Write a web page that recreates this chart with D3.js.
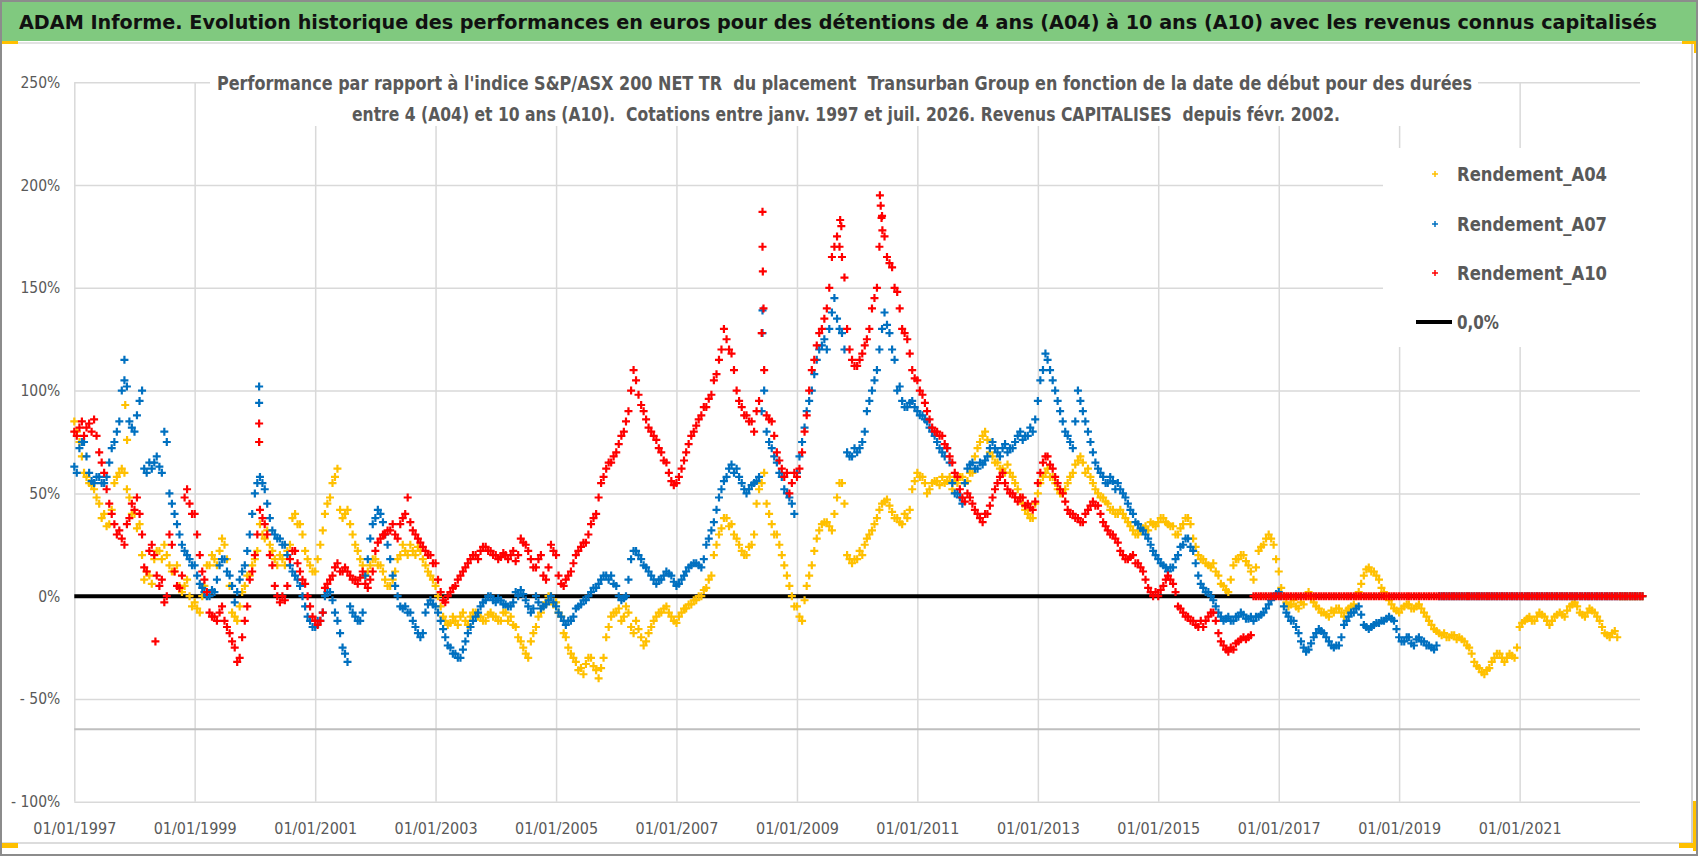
<!DOCTYPE html>
<html>
<head>
<meta charset="utf-8">
<script src="https://cdn.jsdelivr.net/npm/d3@7"></script>
<style>
  body { margin: 0; background: #fff; }
  svg { display: block; }
  text { font-family: "DejaVu Sans Condensed", "Liberation Sans Narrow", "Open Sans", sans-serif; white-space: pre; }
</style>
</head>
<body>
<svg id="chart" width="1698" height="856"></svg>
<script>
// monthly readings, first value = janv. 1997 (start of month)
const startDate = '1997-01-01'

const a04 = [
  85, 75, 60, 55, 52, 45, 40, 35, 55, 60, 60, 48,
  40, 35, 8, 10, 18, 22, 25, 15, 12, 5, 5, 0,
  -3, -8, 5, 15, 18, 22, 25, 5, -10, -5, 5, 10,
  18, 35, 28, 25, 18, 20, 15, 25, 40, 35, 22, 15,
  12, 25, 40, 48, 58, 42, 40, 35, 25, 18, 10, 15,
  18, 15, 8, 5, 12, 20, 22, 25, 20, 22, 15, 10,
  5, -5, -12, -13, -12, -10, -12, -10, -8, -10, -12, -8,
  -10, -12, -8, -10, -15, -22, -28, -22, -15, -8, -3, 0,
  -3, -10, -20, -28, -32, -35, -33, -30, -36, -35, -20, -10,
  -8, -12, -5, -15, -12, -20, -22, -15, -10, -8, -5, -10,
  -13, -8, -6, -4, -2, 0, 4, 10, 25, 33, 38, 35,
  28, 22, 20, 25, 45, 55, 45, 35, 30, 20, 10, 0,
  -5, -12, 5, 15, 28, 35, 36, 32, 48, 55, 20, 16,
  18, 20, 28, 32, 38, 45, 47, 41, 38, 35, 38, 52,
  60, 58, 50, 55, 56, 58, 56, 52, 55, 58, 56, 60,
  72, 78, 76, 68, 65, 62, 64, 58, 52, 45, 40, 38,
  50, 58, 62, 58, 52, 50, 55, 60, 66, 65, 62, 55,
  50, 48, 45, 42, 40, 40, 36, 32, 30, 33, 32, 35,
  36, 38, 35, 34, 30, 35, 38, 28, 20, 18, 15, 16,
  10, 5, 2, 15, 18, 20, 15, 8, 22, 25, 30, 25,
  12, 0, -5, -2, -6, -4, 2, -3, -6, -8, -10, -8,
  -6, -10, -6, -4, 2, 10, 14, 12, 8, 2, -2, -6,
  -8, -5, -4, -6, -4, -8, -12, -16, -18, -18, -20, -19,
  -20, -22, -25, -32, -35, -38, -35, -30, -28, -32, -28, -30,
  -15, -12, -10, -12, -8, -10, -14, -10, -8, -10, -5, -3,
  -8, -10, -6, -8, -12, -18, -20, -17,
  0, 0, 0, 0, 0
]

// second reading of each month (mid-month), other edge of the cloud
const a04Mid = [
  80, 68, 58, 54, 48, 38, 34, 42, 58, 62, 52, 40,
  33, 20, 12, 6, 22, 18, 20, 12, 15, 2, 8, -5,
  -6, 0, 15, 20, 15, 28, 18, -8, -12, 2, 10, 15,
  22, 30, 32, 22, 15, 18, 22, 38, 35, 30, 18, 12,
  18, 32, 45, 55, 62, 38, 42, 30, 22, 15, 12, 18,
  15, 12, 5, 8, 18, 25, 20, 22, 24, 18, 12, 8,
  0, -10, -14, -10, -14, -8, -14, -8, -10, -12, -9, -10,
  -12, -8, -12, -14, -20, -25, -30, -18, -10, -5, 0, -4,
  -8, -18, -25, -30, -36, -38, -30, -34, -40, -30, -15, -8,
  -6, -10, -8, -18, -16, -24, -18, -12, -8, -6, -8, -12,
  -10, -6, -4, -2, 0, 3, 8, 20, 30, 38, 34, 30,
  25, 20, 24, 30, 52, 60, 40, 30, 25, 15, 5, -5,
  -10, -2, 10, 22, 32, 36, 34, 40, 55, 45, 18, 18,
  22, 25, 30, 35, 42, 46, 44, 38, 36, 40, 42, 56,
  58, 55, 52, 56, 54, 55, 58, 56, 58, 55, 60, 68,
  75, 80, 70, 65, 62, 60, 60, 55, 48, 42, 38, 45,
  55, 60, 58, 55, 50, 52, 58, 64, 68, 60, 58, 52,
  48, 46, 42, 40, 42, 38, 34, 30, 32, 34, 36, 34,
  38, 36, 34, 30, 33, 38, 35, 24, 18, 16, 14, 12,
  6, 3, 8, 18, 20, 17, 12, 14, 24, 28, 28, 18,
  4, -3, -4, -5, -3, 0, -1, -5, -8, -9, -7, -6,
  -8, -7, -5, 0, 6, 13, 12, 10, 4, 0, -4, -7,
  -6, -4, -6, -5, -6, -10, -14, -17, -19, -20, -19, -21,
  -21, -24, -28, -34, -37, -36, -32, -28, -30, -30, -29, -25,
  -13, -11, -12, -10, -9, -12, -12, -9, -9, -7, -4, -5,
  -9, -8, -7, -10, -15, -19, -18, -20,
  0, 0, 0, 0, 0
]

const a07 = [
  63, 72, 75, 60, 55, 58, 55, 65, 75, 85, 105, 85,
  80, 95, 62, 65, 65, 63, 80, 50, 40, 30, 22, 18,
  15, 6, 2, 0, 2, 15, 18, 10, -3, 8, 15, 30,
  50, 58, 52, 38, 30, 28, 25, 15, 10, 5, -5, -12,
  -15, -12, 0, 2, -8, -18, -28, -5, -10, -12, 10, 28,
  38, 40, 30, 18, 5, -5, -5, -8, -15, -20, -8, -2,
  -5, -12, -20, -25, -28, -30, -22, -15, -10, -5, -2, 0,
  -3, -2, -4, -5, 2, 3, -2, -8, 0, -6, -4, 0,
  -5, -10, -14, -12, -6, -4, -2, 2, 4, 8, 10, 10,
  5, -2, 0, 18, 22, 18, 14, 10, 6, 8, 12, 10,
  5, 8, 12, 15, 16, 14, 25, 32, 42, 52, 58, 64,
  62, 55, 50, 54, 56, 90, 80, 72, 65, 58, 50, 45,
  60, 75, 90, 100, 115, 122, 120, 138, 135, 128, 70, 68,
  70, 75, 90, 100, 110, 130, 132, 120, 100, 95, 92, 95,
  90, 88, 85, 80, 75, 70, 72, 55, 50, 45, 62, 65,
  62, 64, 68, 75, 70, 72, 70, 72, 78, 76, 78, 80,
  95, 110, 115, 105, 95, 85, 78, 72, 100, 90, 80, 70,
  62, 58, 55, 56, 55, 50, 45, 40, 35, 32, 28, 22,
  18, 15, 12, 14, 20, 25, 28, 22, 10, 4, 2, -2,
  -8, -12, -10, -12, -10, -9, -11, -12, -10, -8, -4, 0,
  2, -5, -10, -12, -18, -25, -26, -20, -16, -18, -22, -25,
  -24, -14, -10, -8, -5, -14, -16, -14, -13, -12, -10, -12,
  -20, -22, -20, -24, -20, -22, -24, -26,
  0, 0, 0, 0, 0, 0, 0, 0, 0, 0, 0, 0, 0, 0, 0, 0, 0, 0, 0, 0,
  0, 0, 0, 0, 0, 0, 0, 0, 0, 0, 0, 0, 0, 0, 0, 0, 0, 0, 0, 0, 0
]

const a07Mid = [
  60, 75, 68, 56, 58, 55, 58, 72, 80, 100, 102, 82,
  88, 100, 60, 62, 68, 60, 75, 45, 35, 25, 20, 15,
  10, 4, 0, 3, 8, 18, 12, 5, 2, 12, 22, 40,
  55, 55, 45, 32, 28, 25, 20, 12, 8, 0, -10, -15,
  -12, -8, 2, -2, -12, -25, -32, -8, -12, -8, 18, 35,
  42, 36, 25, 10, 0, -6, -8, -12, -18, -18, -4, -4,
  -8, -16, -24, -28, -30, -26, -18, -12, -8, -3, 0, -2,
  -1, -4, -5, -3, 0, 1, -5, -6, -3, -5, -2, -3,
  -8, -12, -12, -10, -5, -2, 0, 4, 6, 10, 8, 6,
  0, -1, 8, 22, 20, 15, 12, 8, 8, 10, 11, 7,
  6, 10, 14, 16, 15, 18, 28, 36, 48, 56, 62, 60,
  58, 52, 52, 55, 58, 100, 75, 68, 60, 52, 48, 40,
  68, 82, 95, 108, 120, 125, 130, 145, 130, 120, 68, 72,
  72, 80, 95, 105, 120, 138, 128, 115, 102, 92, 94, 92,
  88, 86, 82, 78, 72, 68, 65, 50, 48, 55, 64, 62,
  65, 66, 72, 72, 68, 74, 72, 75, 80, 78, 82, 86,
  105, 118, 110, 100, 90, 80, 75, 85, 95, 85, 75, 65,
  60, 55, 58, 52, 52, 48, 42, 36, 33, 30, 25, 20,
  16, 14, 14, 18, 24, 28, 24, 16, 6, 2, 0, -5,
  -10, -11, -12, -10, -8, -11, -10, -10, -9, -6, -2, 1,
  0, -8, -12, -15, -22, -27, -23, -18, -17, -20, -24, -24,
  -20, -12, -8, -6, -9, -15, -15, -13, -12, -11, -11, -16,
  -22, -20, -23, -21, -22, -24, -25, -24,
  0, 0, 0, 0, 0, 0, 0, 0, 0, 0, 0, 0, 0, 0, 0, 0, 0, 0, 0, 0,
  0, 0, 0, 0, 0, 0, 0, 0, 0, 0, 0, 0, 0, 0, 0, 0, 0, 0, 0, 0, 0
]

const a10 = [
  80, 82, 78, 84, 86, 70, 60, 45, 35, 32, 25, 38,
  42, 40, 14, 22, 20, 5, -3, 30, 12, 4, 48, 45,
  40, 20, 8, -8, -10, -8, -12, -18, -25, -30, -12, 8,
  20, 42, 35, 20, 5, -3, -2, 18, 22, 12, 6, -5,
  -12, -12, 4, 8, 14, 12, 14, 10, 8, 9, 6, 8,
  22, 28, 30, 32, 30, 35, 40, 36, 30, 26, 22, 20,
  16, 2, -3, 2, 5, 10, 14, 18, 20, 22, 24, 22,
  20, 19, 20, 20, 17, 28, 25, 18, 14, 20, 8, 25,
  20, 6, 8, 12, 20, 24, 26, 35, 40, 55, 62, 65,
  70, 78, 85, 100, 105, 93, 86, 80, 76, 70, 65, 56,
  55, 62, 70, 78, 83, 88, 92, 98, 108, 120, 125, 118,
  100, 92, 88, 85, 90, 128, 88, 85, 70, 62, 60, 55,
  58, 70, 88, 110, 122, 130, 140, 165, 175, 165, 130, 115,
  112, 118, 125, 140, 150, 185, 165, 160, 148, 130, 125, 110,
  105, 98, 90, 82, 80, 78, 72, 65, 58, 48, 50, 45,
  40, 36, 40, 48, 55, 60, 52, 50, 46, 48, 45, 42,
  55, 65, 68, 62, 55, 50, 42, 40, 38, 36, 42, 46,
  44, 36, 32, 30, 26, 20, 18, 20, 16, 12, 4, 0,
  0, 5, 10, 6, -5, -8, -10, -12, -15, -15, -10, -8,
  -18, -24, -27, -26, -22, -20, -20,
  0, 0, 0, 0, 0, 0, 0, 0, 0, 0, 0, 0, 0, 0, 0, 0, 0, 0, 0, 0,
  0, 0, 0, 0, 0, 0, 0, 0, 0, 0, 0, 0, 0, 0, 0, 0, 0, 0, 0, 0,
  0, 0, 0, 0, 0, 0, 0, 0, 0, 0, 0, 0, 0, 0, 0, 0, 0, 0, 0, 0,
  0, 0, 0, 0, 0, 0, 0, 0, 0, 0, 0, 0, 0, 0, 0, 0, 0, 0
]

const a10Mid = [
  78, 85, 82, 80, 78, 65, 52, 40, 30, 28, 35, 45,
  48, 30, 12, 25, 10, 8, 0, 25, 5, 10, 52, 40,
  30, 12, 2, -10, -12, -5, -15, -22, -32, -20, -5, 12,
  30, 38, 30, 15, 0, 0, 5, 22, 16, 8, 0, -10,
  -14, -8, 6, 10, 16, 12, 12, 8, 6, 12, 4, 12,
  26, 30, 32, 35, 28, 38, 48, 32, 28, 24, 20, 16,
  8, -2, 0, 4, 8, 12, 16, 20, 18, 24, 22, 20,
  18, 21, 18, 22, 20, 26, 22, 14, 18, 10, 14, 22,
  10, 5, 10, 16, 22, 26, 30, 38, 48, 58, 65, 68,
  74, 80, 90, 110, 98, 90, 82, 78, 72, 66, 60, 54,
  58, 66, 74, 80, 86, 92, 96, 105, 115, 130, 120, 110,
  95, 88, 85, 80, 95, 110, 86, 78, 66, 58, 50, 60,
  62, 80, 100, 115, 128, 135, 150, 170, 170, 155, 120, 112,
  115, 122, 130, 145, 170, 175, 162, 150, 140, 128, 118, 106,
  100, 94, 86, 80, 78, 74, 68, 60, 52, 46, 48, 42,
  38, 40, 44, 52, 58, 55, 50, 48, 48, 44, 43, 46,
  60, 68, 64, 58, 52, 46, 40, 38, 36, 40, 44, 44,
  40, 34, 30, 28, 22, 18, 19, 16, 14, 8, 2, 2,
  3, 8, 8, 2, -6, -10, -12, -14, -12, -12, -8, -12,
  -22, -26, -25, -23, -21, -21, -19,
  0, 0, 0, 0, 0, 0, 0, 0, 0, 0, 0, 0, 0, 0, 0, 0, 0, 0, 0, 0,
  0, 0, 0, 0, 0, 0, 0, 0, 0, 0, 0, 0, 0, 0, 0, 0, 0, 0, 0, 0,
  0, 0, 0, 0, 0, 0, 0, 0, 0, 0, 0, 0, 0, 0, 0, 0, 0, 0, 0, 0,
  0, 0, 0, 0, 0, 0, 0, 0, 0, 0, 0, 0, 0, 0, 0, 0, 0, 0
]

// isolated points that stand out of the clouds
const a04SpikeDates = ['1997-11-06', '1997-11-17', '2000-01-27']
const a04SpikeValues = [93, 76, 75]
const a07SpikeDates = ['1997-11-01', '2000-01-27', '2000-01-27', '2008-06-06', '2008-06-06']
const a07SpikeValues = [115, 102, 94, 139, 128]
const a10SpikeDates = ['1998-05-08', '2000-01-27', '2000-01-27', '2008-06-06', '2008-06-06',
  '2008-06-08', '2008-06-12', '2009-09-20', '2009-09-27', '2010-05-19', '2010-05-24',
  '2010-05-29', '2010-06-03']
const a10SpikeValues = [-22, 84, 75, 187, 170, 158, 140, 183, 180, 195, 190, 184, 178]

const floorLevel = -64.8

const seriesNames = ['Rendement_A04', 'Rendement_A07', 'Rendement_A10']
const seriesColors = ['#ffc000', '#0070c0', '#ff0000']
const zeroLabel = '0,0%'

const yTicks = [-100, -50, 0, 50, 100, 150, 200, 250]
const xTickYears = [1997, 1999, 2001, 2003, 2005, 2007, 2009, 2011, 2013, 2015, 2017, 2019, 2021]
const xDomain = ['1997-01-01', '2023-01-01']

const title = 'ADAM Informe. Evolution historique des performances en euros pour des détentions de 4 ans (A04) à 10 ans (A10) avec les revenus connus capitalisés'
const subtitle = [
  "Performance par rapport à l'indice S&P/ASX 200 NET TR  du placement  Transurban Group en fonction de la date de début pour des durées",
  'entre 4 (A04) et 10 ans (A10).  Cotations entre janv. 1997 et juil. 2026. Revenus CAPITALISES  depuis févr. 2002.'
]

const parse = d3.timeParse('%Y-%m-%d')
const svg = d3.select('#chart')

const x = d3.scaleTime().domain(xDomain.map(parse)).range([74.3, 1640])
const y = d3.scaleLinear().domain([-100, 250]).range([801.7, 82.3])
const plotW = x.range()[1] - x.range()[0]
const plotH = y.range()[0] - y.range()[1]

// frame + title band
svg.append('rect').attr('width', 1698).attr('height', 856).style('fill', '#fff')
svg.append('rect').attr('x', 0).attr('y', 0).attr('width', 1698).attr('height', 41).style('fill', '#80c97f')
svg.append('line').attr('x1', 0).attr('x2', 1692).attr('y1', 43).attr('y2', 43).style('stroke', '#d9d9d9').style('stroke-width', 1.5)
svg.append('line').attr('x1', 0).attr('x2', 1692).attr('y1', 843).attr('y2', 843).style('stroke', '#d0d0d0').style('stroke-width', 1.5)
svg.append('line').attr('x1', 1692).attr('x2', 1692).attr('y1', 43).attr('y2', 843).style('stroke', '#bfbfbf').style('stroke-width', 1.5)

svg.append('text')
  .attr('x', 19).attr('y', 29)
  .attr('textLength', 1638).attr('lengthAdjust', 'spacingAndGlyphs')
  .style('font-size', '20px').style('font-weight', 'bold').style('fill', '#111')
  .text(title)

// grid + axes
const yAxis = d3.axisLeft(y)
  .tickValues(yTicks)
  .tickSize(-plotW)
  .tickPadding(14)
  .tickFormat(v => v < 0 ? '- ' + Math.abs(v) + '%' : v + '%')

const gy = svg.append('g').attr('transform', `translate(${x.range()[0]},0)`).call(yAxis)
gy.select('.domain').remove()
gy.selectAll('.tick line').style('stroke', '#d9d9d9').style('stroke-width', 1.5)
gy.selectAll('.tick text').style('font-size', '15.5px').style('fill', '#595959')

const xAxis = d3.axisBottom(x)
  .tickValues(xTickYears.map(yr => new Date(yr, 0, 1)))
  .tickSize(-plotH)
  .tickPadding(21)
  .tickFormat(d3.timeFormat('%d/%m/%Y'))

const gx = svg.append('g').attr('transform', `translate(0,${y.range()[0]})`).call(xAxis)
gx.select('.domain').remove()
gx.selectAll('.tick line').style('stroke', '#d9d9d9').style('stroke-width', 1.5)
gx.selectAll('.tick text').style('font-size', '16px').style('fill', '#595959')

svg.append('line')
  .attr('x1', x.range()[0]).attr('x2', x.range()[1])
  .attr('y1', y(floorLevel)).attr('y2', y(floorLevel))
  .style('stroke', '#bfbfbf').style('stroke-width', 2)

// subtitle box sits over the grid
svg.append('rect').attr('x', 210).attr('y', 62).attr('width', 1268).attr('height', 64).style('fill', '#fff')
const sub = [[217, 90, 1255], [352, 121, 988]]
subtitle.forEach((s, i) => {
  svg.append('text')
    .attr('x', sub[i][0]).attr('y', sub[i][1])
    .attr('textLength', sub[i][2]).attr('lengthAdjust', 'spacingAndGlyphs')
    .style('font-size', '20px').style('font-weight', 'bold').style('fill', '#595959')
    .text(s)
})

// zero line
svg.append('line')
  .attr('x1', x.range()[0]).attr('x2', x.range()[1])
  .attr('y1', y(0)).attr('y2', y(0))
  .style('stroke', '#000').style('stroke-width', 4)

// markers
function points (values, midValues, spikeDates, spikeValues) {
  const start = parse(startDate)
  const pts = []
  values.forEach((v, i) => {
    const m = d3.timeMonth.offset(start, i)
    pts.push({ d: m, v: v })
    pts.push({ d: d3.timeDay.offset(m, 15), v: midValues[i] })
  })
  spikeDates.forEach((s, i) => pts.push({ d: parse(s), v: spikeValues[i] }))
  return pts
}

const cross = 'M-4,0H4M0,-4V4'
const series = [
  points(a04, a04Mid, a04SpikeDates, a04SpikeValues),
  points(a07, a07Mid, a07SpikeDates, a07SpikeValues),
  points(a10, a10Mid, a10SpikeDates, a10SpikeValues)
]

series.forEach((pts, k) => {
  svg.append('g')
    .selectAll('path')
    .data(pts)
    .join('path')
    .attr('d', cross)
    .attr('transform', d => `translate(${x(d.d)},${y(d.v)})`)
    .style('fill', 'none')
    .style('stroke', seriesColors[k])
    .style('stroke-width', 2.2)
})

// legend
svg.append('rect').attr('x', 1383).attr('y', 148).attr('width', 258).attr('height', 199).style('fill', '#fff')
const legendY = [174, 224, 273]
seriesNames.forEach((name, k) => {
  svg.append('path')
    .attr('d', 'M-3,0H3M0,-3V3')
    .attr('transform', `translate(1435,${legendY[k]})`)
    .style('stroke', seriesColors[k]).style('stroke-width', 1.5)
  svg.append('text')
    .attr('x', 1457).attr('y', legendY[k]).attr('dy', '0.35em')
    .attr('textLength', 150).attr('lengthAdjust', 'spacingAndGlyphs')
    .style('font-size', '20px').style('font-weight', 'bold').style('fill', '#595959')
    .text(name)
})
svg.append('line').attr('x1', 1416).attr('x2', 1452).attr('y1', 322).attr('y2', 322)
  .style('stroke', '#000').style('stroke-width', 4)
svg.append('text')
  .attr('x', 1457).attr('y', 322).attr('dy', '0.35em')
  .attr('textLength', 42).attr('lengthAdjust', 'spacingAndGlyphs')
  .style('font-size', '20px').style('font-weight', 'bold').style('fill', '#595959')
  .text(zeroLabel)

// selection handles and outer border
const handles = [[0, 41, 18, 3], [1682, 41, 16, 3], [1694, 41, 3, 12], [1693, 801, 4, 50], [1679, 843, 18, 5], [0, 843, 18, 5]]
handles.forEach(h => {
  svg.append('rect').attr('x', h[0]).attr('y', h[1]).attr('width', h[2]).attr('height', h[3]).style('fill', '#ffc000')
})
svg.append('rect').attr('x', 1).attr('y', 1).attr('width', 1696).attr('height', 854)
  .style('fill', 'none').style('stroke', '#8c8c8c').style('stroke-width', 2)
</script>
</body>
</html>
